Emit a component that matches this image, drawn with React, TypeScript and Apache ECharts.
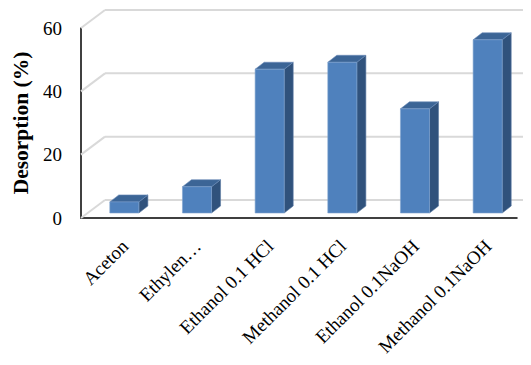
import React, { useEffect, useRef } from "react";
import * as echarts from "echarts";

const categories = [
  "Aceton",
  "Ethylen…",
  "Ethanol 0.1 HCl",
  "Methanol 0.1 HCl",
  "Ethanol 0.1NaOH",
  "Methanol 0.1NaOH",
];
const desorption = [3.5, 8.3, 45.4, 47.6, 32.9, 54.7];
const yTicks = [0, 20, 40, 60];

// perspective depth of the chart box (back wall offset from the front plane)
const DEPTH_X = 24;
const DEPTH_Y = -18;
// bars sit inside the box: front face offset and bar depth
const BAR_FRONT_X = 7;
const BAR_FRONT_Y = -5;
const BAR_DX = 9;
const BAR_DY = -7;

const FONT = "Liberation Serif";

export default function App() {
  const ref = useRef<HTMLDivElement>(null);

  useEffect(() => {
    if (!ref.current) return;
    const chart = echarts.init(ref.current, null, { renderer: "svg" });

    const option: any = {
      animation: false,
      backgroundColor: "#ffffff",
      grid: {
        left: 73,
        right: 6,
        top: 20,
        bottom: 139,
        containLabel: false,
        outerBoundsMode: "none",
      },
      xAxis: {
        type: "category",
        data: categories,
        axisLine: { show: true, lineStyle: { color: "#000000", width: 1.5 } },
        axisTick: { show: false },
        splitLine: { show: false },
        // category names are drawn by the label series below (slanted, shifted with depth)
        axisLabel: { show: false },
      },
      yAxis: {
        type: "value",
        min: 0,
        max: 60,
        interval: 20,
        name: "Desorption (%)",
        nameLocation: "middle",
        nameGap: 47,
        nameTextStyle: {
          color: "#000000",
          fontFamily: FONT,
          fontSize: 21.5,
          fontWeight: "bold",
        },
        axisLine: { show: true, lineStyle: { color: "#000000", width: 1.5 } },
        axisTick: { show: false },
        splitLine: { show: false },
        axisLabel: {
          margin: 19,
          color: "#000000",
          fontFamily: FONT,
          fontSize: 19,
        },
      },
      series: [
        {
          // back wall gridlines and side-wall diagonals
          type: "custom",
          z: 1,
          silent: true,
          clip: false,
          data: yTicks.map((t) => [0, t]),
          renderItem: (params: any, api: any) => {
            const cs = params.coordSys;
            const p = api.coord([0, api.value(1)]);
            const y = p[1];
            const x0 = cs.x;
            const x1 = cs.x + cs.width;
            const style = { stroke: "#d9d9d9", lineWidth: 2, fill: "none" };
            return {
              type: "group",
              children: [
                {
                  type: "line",
                  shape: { x1: x0, y1: y, x2: x0 + DEPTH_X, y2: y + DEPTH_Y },
                  style,
                },
                {
                  type: "line",
                  shape: {
                    x1: x0 + DEPTH_X,
                    y1: y + DEPTH_Y,
                    x2: x1 + DEPTH_X,
                    y2: y + DEPTH_Y,
                  },
                  style,
                },
              ],
            };
          },
        },
        {
          // 3D columns: front face, top face, right side face
          type: "custom",
          z: 2,
          clip: false,
          data: desorption.map((v, i) => [i, v]),
          renderItem: (params: any, api: any) => {
            const i = api.value(0);
            const v = api.value(1);
            const base = api.coord([i, 0]);
            const top = api.coord([i, v]);
            const bw = api.size([1, 0])[0] * 0.4;
            const x0 = base[0] - bw / 2 + BAR_FRONT_X;
            const x1 = x0 + bw;
            const yb = base[1] + BAR_FRONT_Y;
            const yt = top[1] + BAR_FRONT_Y;
            return {
              type: "group",
              children: [
                {
                  type: "polygon",
                  shape: {
                    points: [
                      [x1, yt],
                      [x1 + BAR_DX, yt + BAR_DY],
                      [x1 + BAR_DX, yb + BAR_DY],
                      [x1, yb],
                    ],
                  },
                  style: { fill: "#30527c", stroke: "#5a7aa3", lineWidth: 0.6 },
                },
                {
                  type: "polygon",
                  shape: {
                    points: [
                      [x0, yt],
                      [x1, yt],
                      [x1 + BAR_DX, yt + BAR_DY],
                      [x0 + BAR_DX, yt + BAR_DY],
                    ],
                  },
                  style: { fill: "#3c6596", stroke: "#6b8cb8", lineWidth: 0.6 },
                },
                {
                  type: "rect",
                  shape: { x: x0, y: yt, width: bw, height: yb - yt },
                  style: { fill: "#4f81bd", stroke: "#7fa2cf", lineWidth: 0.6 },
                },
              ],
            };
          },
        },
        {
          // slanted category names under the floor
          type: "custom",
          z: 3,
          silent: true,
          clip: false,
          data: categories.map((c, i) => [i, 0]),
          renderItem: (params: any, api: any) => {
            const i = api.value(0);
            const p = api.coord([i, 0]);
            return {
              type: "text",
              x: p[0] + 7.5,
              y: p[1] + 25,
              rotation: Math.PI / 4,
              style: {
                text: categories[i],
                align: "right",
                verticalAlign: "middle",
                fill: "#000000",
                fontFamily: FONT,
                fontSize: 19,
              },
            };
          },
        },
      ],
    };

    chart.setOption(option);
    return () => chart.dispose();
  }, []);

  return <div ref={ref} style={{ width: 515, height: 349 }} />;
}
